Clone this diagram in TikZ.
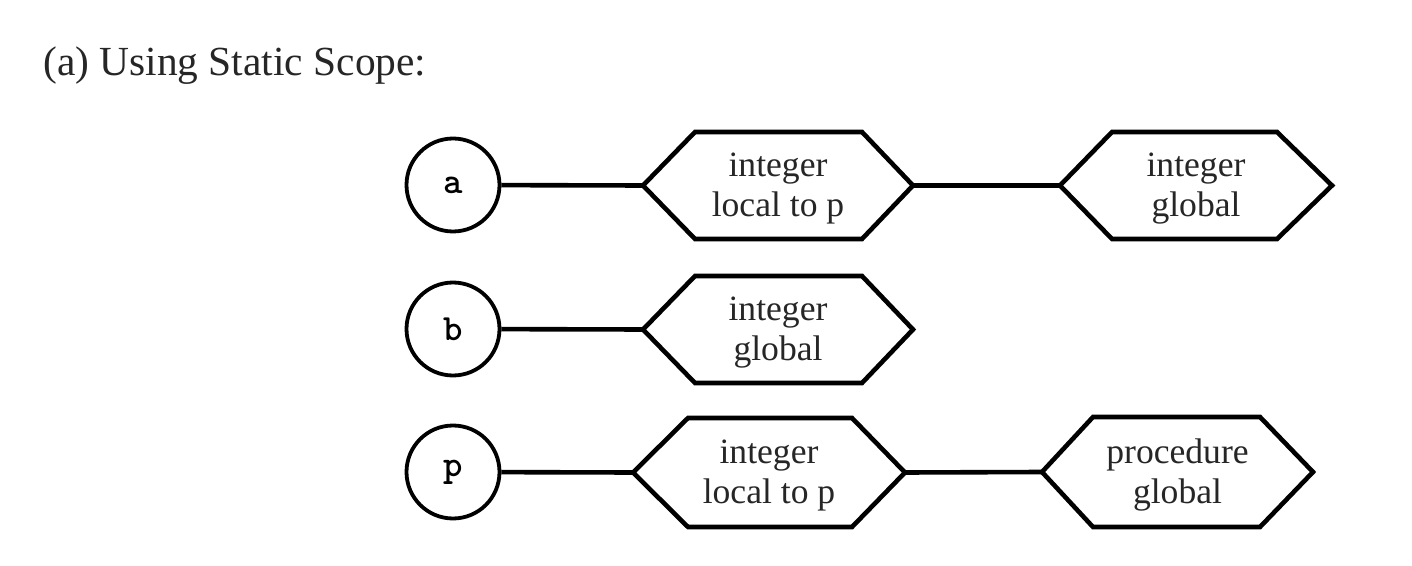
\documentclass[tikz,border=0pt]{standalone}
\usepackage{fontspec}
\setmainfont{Liberation Serif}
\tikzset{
  hexline/.style={draw=black, line width=2.3pt, line join=miter},
  varcircle/.style={circle, draw=black, line width=1.9pt, minimum size=46.5pt, inner sep=0pt, font=\ttfamily\bfseries\fontsize{18.5}{18.5}\selectfont},
  hextext/.style={align=center, inner sep=0pt, text=black!85, font=\fontsize{17.8}{20}\selectfont},
  link/.style={draw=black, line width=2.3pt},
  title/.style={anchor=base west, inner sep=0pt, text=black!85, font=\fontsize{20.7}{24}\selectfont}
}
% #1 name, #2 left tip x, #3 top-left x, #4 top-right x, #5 right tip x, #6 top y, #7 bottom y, #8 text
\newcommand\hexagonbox[8]{%
  \coordinate (#1-w) at (#2,{(#6+#7)/2});
  \coordinate (#1-e) at (#5,{(#6+#7)/2});
  \path[hexline] (#1-w) -- (#3,#6) -- (#4,#6) -- (#1-e) -- (#4,#7) -- (#3,#7) -- cycle;
  \node[hextext] (#1) at ({(#2+#5)/2},{(#6+#7)/2+3}) {#8};
}
\begin{document}
\begin{tikzpicture}[x=0.5pt, y=-0.5pt]
\useasboundingbox (0,0) rectangle (1412,566);
\fill[white] (0,0) rectangle (1412,566);
\node[title] (ttl) at (43,76) {(a) Using Static Scope:};

% row a
\node[varcircle] (va) at (453,185) {a};
\hexagonbox{a1}{643}{695}{862}{913}{132}{239}{integer\\local to p}
\hexagonbox{a2}{1060}{1112}{1277}{1332}{132}{239}{integer\\global}
\draw[link] (va) -- (a1-w);
\draw[link] (a1-e) -- (a2-w);

% row b
\node[varcircle] (vb) at (453,329) {b};
\hexagonbox{b1}{643}{695}{862}{913}{276}{383}{integer\\global}
\draw[link] (vb) -- (b1-w);

% row p
\node[varcircle] (vp) at (453,472) {p};
\hexagonbox{p1}{633}{688}{852}{905}{418}{527}{integer\\local to p}
\hexagonbox{p2}{1042}{1093}{1260}{1313}{417}{527}{procedure\\global}
\draw[link] (vp) -- (p1-w);
\draw[link] (p1-e) -- (p2-w);
\end{tikzpicture}
\end{document}
